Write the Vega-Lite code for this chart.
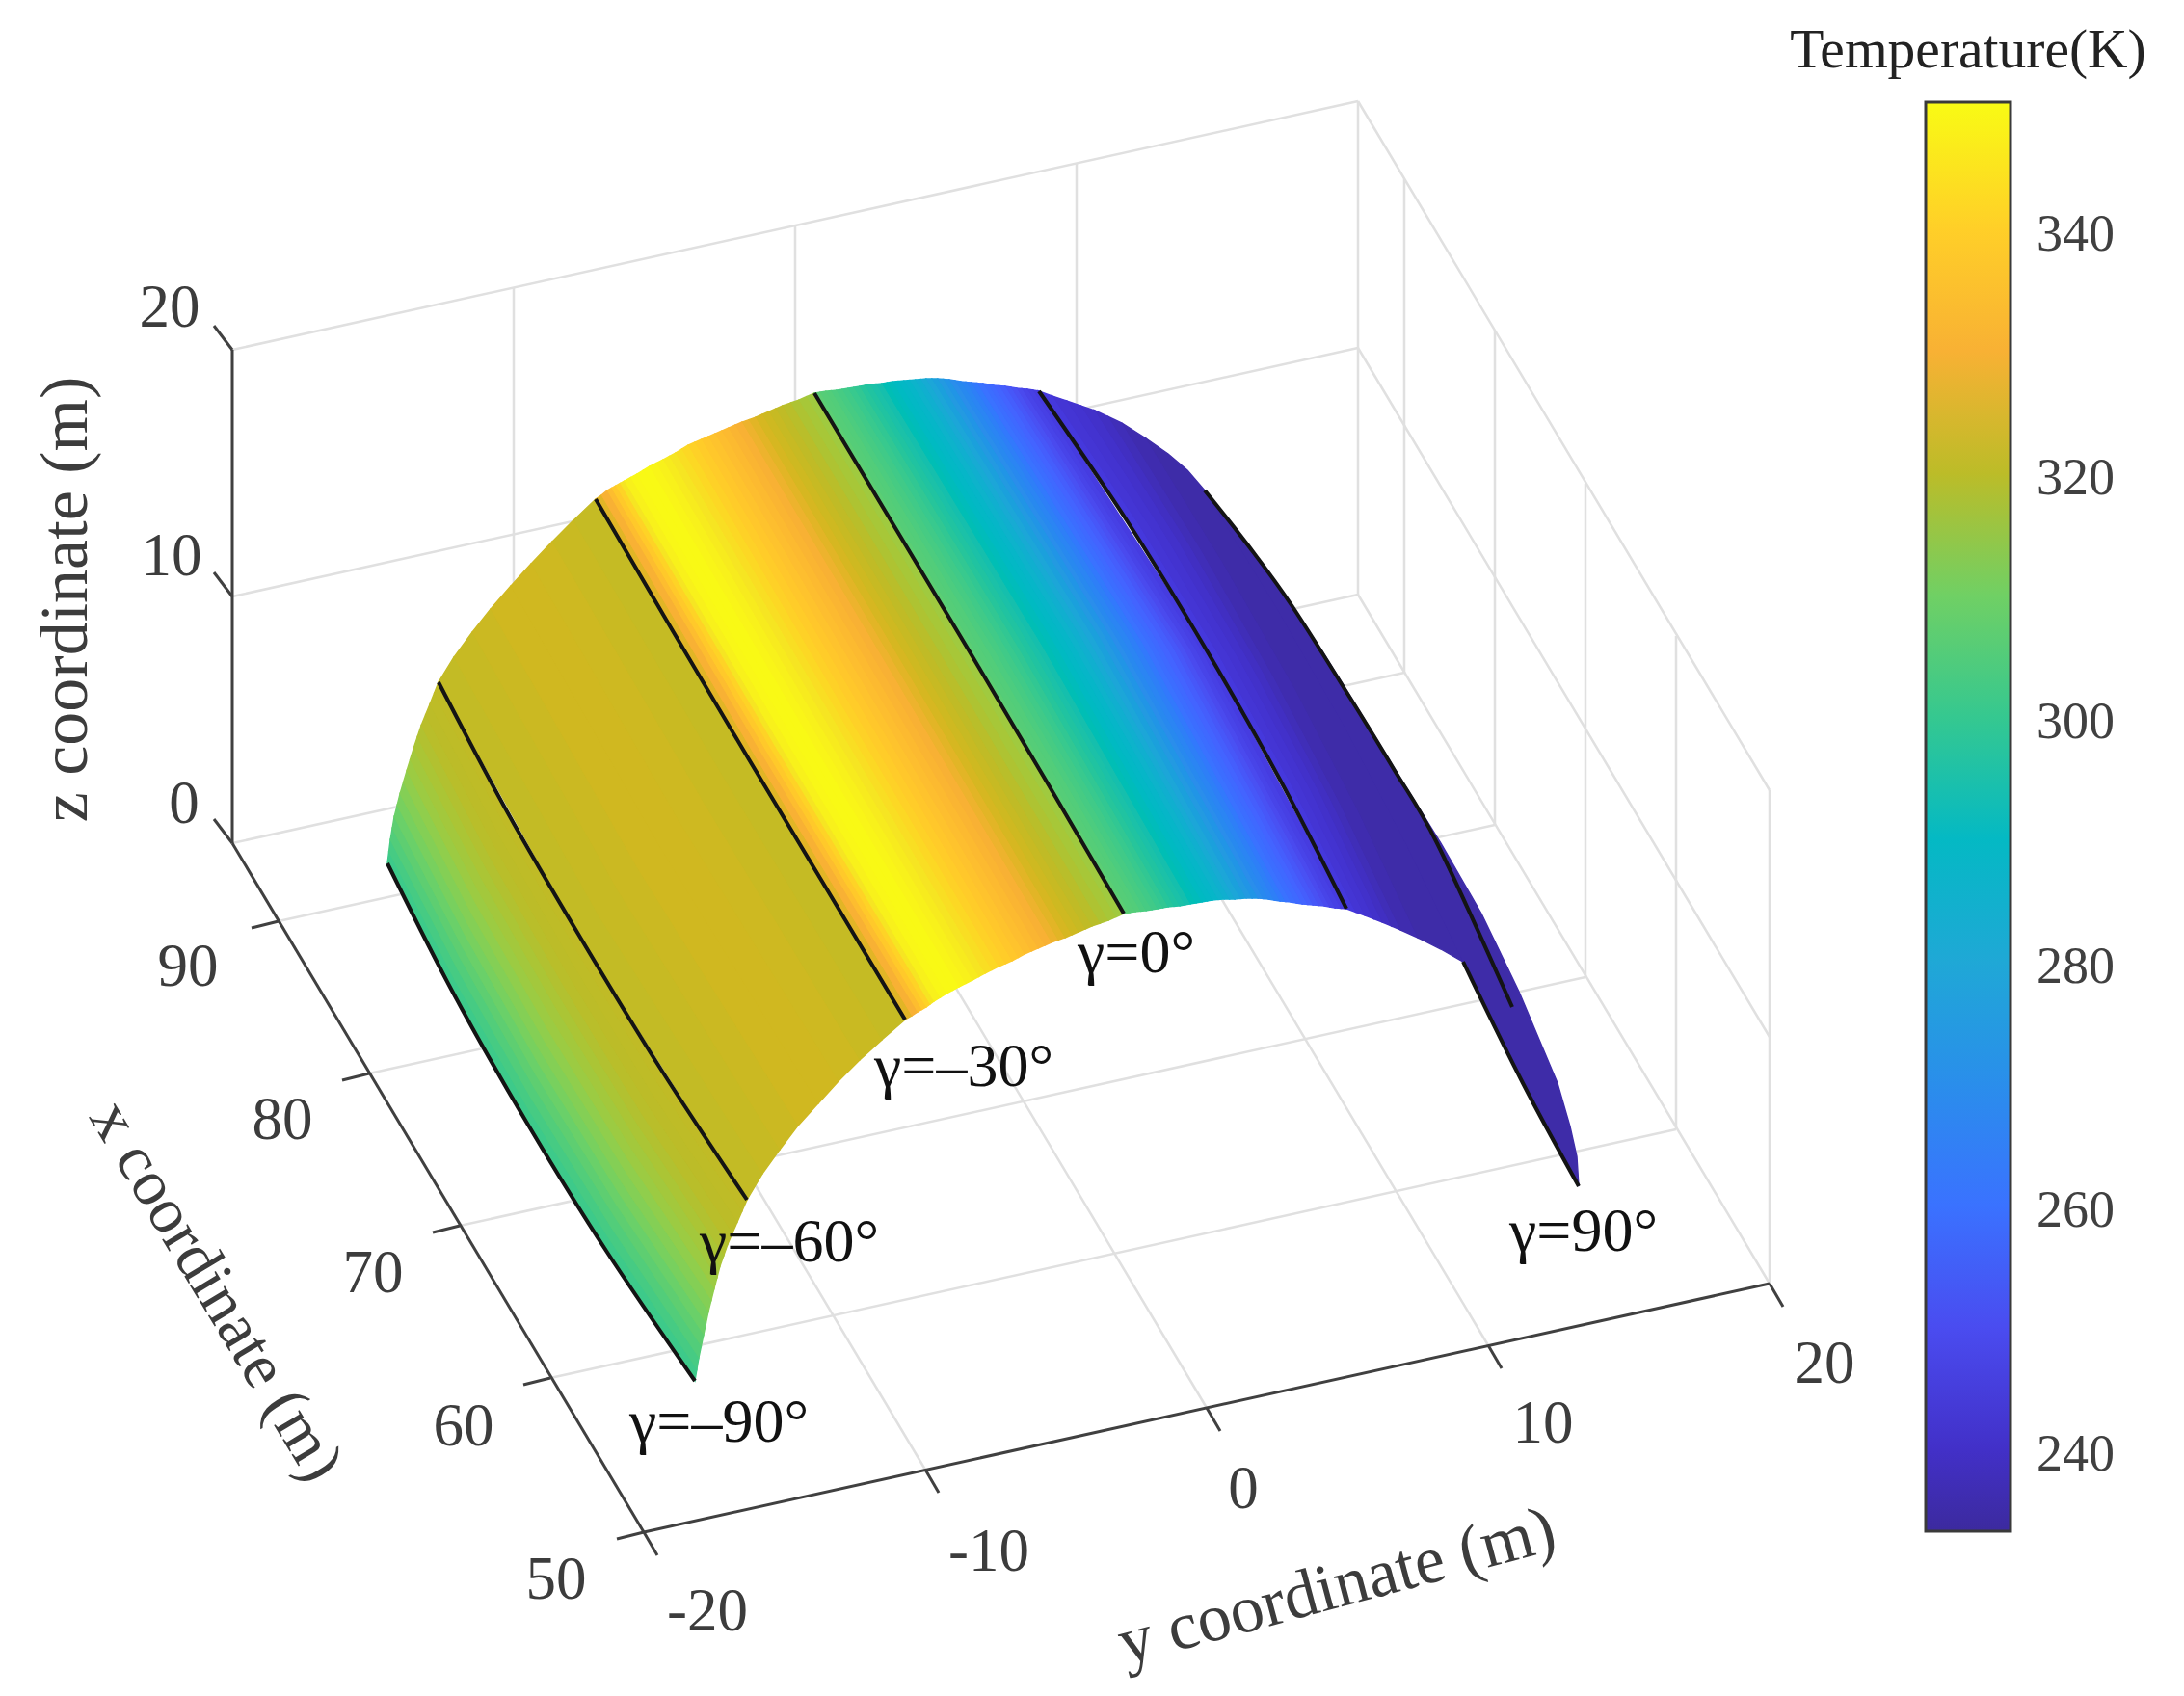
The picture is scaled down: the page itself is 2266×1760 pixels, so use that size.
{"$schema":"https://vega.github.io/schema/vega-lite/v6.json","width":2266,"height":1760,"padding":0,"autosize":{"type":"fit","contains":"padding"},"background":"white","config":{"view":{"stroke":null}},"projection":{"type":"identity","scale":1,"translate":[0,0]},
"datasets":{"surf":[
{"type":"Feature","properties":{"T":301.5},"geometry":{"type":"Polygon","coordinates":[[[402,896],[447,987],[470,1030],[505,1094],[546,1164],[582,1224],[629,1298],[721,1433],[723,1421],[632,1286],[548.5,1152],[472,1018],[403.5,884],[402,896]]]}},
{"type":"Feature","properties":{"T":303},"geometry":{"type":"Polygon","coordinates":[[[403.5,884],[472,1018],[548.5,1152],[632,1286],[723,1421],[725,1409],[634.5,1274.5],[551,1140],[474.5,1006],[405,872],[403.5,884]]]}},
{"type":"Feature","properties":{"T":305},"geometry":{"type":"Polygon","coordinates":[[[405,872],[474.5,1006],[551,1140],[634.5,1274.5],[725,1409],[727.5,1397],[637,1262],[553.5,1128],[477,994],[407,860],[405,872]]]}},
{"type":"Feature","properties":{"T":307},"geometry":{"type":"Polygon","coordinates":[[[407,860],[477,994],[553.5,1128],[637,1262],[727.5,1397],[730,1385],[639.5,1250.5],[556,1116],[479,982],[409,848],[407,860]]]}},
{"type":"Feature","properties":{"T":309},"geometry":{"type":"Polygon","coordinates":[[[409,848],[479,982],[556,1116],[639.5,1250.5],[730,1385],[732.5,1373],[642,1238.5],[558.5,1104],[482,970],[412,836],[409,848]]]}},
{"type":"Feature","properties":{"T":311},"geometry":{"type":"Polygon","coordinates":[[[412,836],[482,970],[558.5,1104],[642,1238.5],[732.5,1373],[735,1361],[644.5,1226.5],[561,1092],[484.5,958],[415,824],[412,836]]]}},
{"type":"Feature","properties":{"T":312.5},"geometry":{"type":"Polygon","coordinates":[[[415,824],[484.5,958],[561,1092],[644.5,1226.5],[735,1361],[738,1349],[648,1214.5],[564.5,1080],[488,946],[418.5,812],[415,824]]]}},
{"type":"Feature","properties":{"T":314},"geometry":{"type":"Polygon","coordinates":[[[418.5,812],[488,946],[564.5,1080],[648,1214.5],[738,1349],[741,1337],[651,1202.5],[568,1068],[491.5,934],[422,800],[418.5,812]]]}},
{"type":"Feature","properties":{"T":315.5},"geometry":{"type":"Polygon","coordinates":[[[422,800],[491.5,934],[568,1068],[651,1202.5],[741,1337],[744,1325.5],[654.5,1191],[572,1056.5],[495,922.5],[425.5,788.5],[422,800]]]}},
{"type":"Feature","properties":{"T":316.5},"geometry":{"type":"Polygon","coordinates":[[[425.5,788.5],[495,922.5],[572,1056.5],[654.5,1191],[744,1325.5],[747,1314],[658,1179.5],[576,1045],[499,911],[429,777],[425.5,788.5]]]}},
{"type":"Feature","properties":{"T":317.5},"geometry":{"type":"Polygon","coordinates":[[[429,777],[499,911],[576,1045],[658,1179.5],[747,1314],[751,1302.5],[662,1168],[580,1033.5],[503,899],[433,765],[429,777]]]}},
{"type":"Feature","properties":{"T":318.5},"geometry":{"type":"Polygon","coordinates":[[[433,765],[503,899],[580,1033.5],[662,1168],[751,1302.5],[755,1291],[666,1156.5],[584,1022],[507,887.5],[437,753],[433,765]]]}},
{"type":"Feature","properties":{"T":319.5},"geometry":{"type":"Polygon","coordinates":[[[437,753],[507,887.5],[584,1022],[666,1156.5],[755,1291],[760,1279.5],[671,1145],[589,1011],[512,876.5],[441.5,742],[437,753]]]}},
{"type":"Feature","properties":{"T":320},"geometry":{"type":"Polygon","coordinates":[[[441.5,742],[512,876.5],[589,1011],[671,1145],[760,1279.5],[765,1268],[676,1134],[594,1000],[517,865.5],[446,731],[441.5,742]]]}},
{"type":"Feature","properties":{"T":320.5},"geometry":{"type":"Polygon","coordinates":[[[446,731],[517,865.5],[594,1000],[676,1134],[765,1268],[770,1256.5],[681,1122],[599,988],[522,853.5],[450.5,719.5],[446,731]]]}},
{"type":"Feature","properties":{"T":321},"geometry":{"type":"Polygon","coordinates":[[[450.5,719.5],[522,853.5],[599,988],[681,1122],[770,1256.5],[775,1245],[686.5,1110.5],[604,976],[526.5,842],[455,708],[450.5,719.5]]]}},
{"type":"Feature","properties":{"T":321.5},"geometry":{"type":"Polygon","coordinates":[[[455,708],[604,976],[775,1245],[791,1218],[621,950],[471,682],[455,708]]]}},
{"type":"Feature","properties":{"T":322.5},"geometry":{"type":"Polygon","coordinates":[[[471,682],[621,950],[791,1218],[809,1193],[641,924],[490,656],[471,682]]]}},
{"type":"Feature","properties":{"T":323.5},"geometry":{"type":"Polygon","coordinates":[[[490,656],[641,924],[809,1193],[828,1168],[661,900],[509,632],[490,656]]]}},
{"type":"Feature","properties":{"T":324.5},"geometry":{"type":"Polygon","coordinates":[[[509,632],[661,900],[828,1168],[849,1145],[683,876],[530,608],[509,632]]]}},
{"type":"Feature","properties":{"T":324.5},"geometry":{"type":"Polygon","coordinates":[[[530,608],[683,876],[849,1145],[870,1122],[705,853],[551,585],[530,608]]]}},
{"type":"Feature","properties":{"T":324},"geometry":{"type":"Polygon","coordinates":[[[551,585],[705,853],[870,1122],[892,1100],[729,831],[573,562],[551,585]]]}},
{"type":"Feature","properties":{"T":323},"geometry":{"type":"Polygon","coordinates":[[[573,562],[729,831],[892,1100],[915,1079],[752,809],[595,540],[573,562]]]}},
{"type":"Feature","properties":{"T":322},"geometry":{"type":"Polygon","coordinates":[[[595,540],[752,809],[915,1079],[939,1058],[777,788],[618,518],[595,540]]]}},
{"type":"Feature","properties":{"T":327},"geometry":{"type":"Polygon","coordinates":[[[618,518],[777,788],[939,1058],[946,1054],[783,784],[624,514],[618,518]]]}},
{"type":"Feature","properties":{"T":330},"geometry":{"type":"Polygon","coordinates":[[[624,514],[783,784],[946,1054],[952,1050],[789,780],[630,509],[624,514]]]}},
{"type":"Feature","properties":{"T":334},"geometry":{"type":"Polygon","coordinates":[[[630,509],[789,780],[952,1050],[956.5,1047.5],[793.5,777],[634.5,506.5],[630,509]]]}},
{"type":"Feature","properties":{"T":338},"geometry":{"type":"Polygon","coordinates":[[[634.5,506.5],[793.5,777],[956.5,1047.5],[961,1045],[798,774],[639,504],[634.5,506.5]]]}},
{"type":"Feature","properties":{"T":341},"geometry":{"type":"Polygon","coordinates":[[[639,504],[798,774],[961,1045],[965,1042],[802.5,771.5],[643.5,501.5],[639,504]]]}},
{"type":"Feature","properties":{"T":345},"geometry":{"type":"Polygon","coordinates":[[[643.5,501.5],[802.5,771.5],[965,1042],[969,1039],[807,769],[648,499],[643.5,501.5]]]}},
{"type":"Feature","properties":{"T":348},"geometry":{"type":"Polygon","coordinates":[[[648,499],[807,769],[969,1039],[975.5,1035],[813.5,765],[654.5,495.5],[648,499]]]}},
{"type":"Feature","properties":{"T":349.5},"geometry":{"type":"Polygon","coordinates":[[[654.5,495.5],[813.5,765],[975.5,1035],[982,1031],[820,761],[661,492],[654.5,495.5]]]}},
{"type":"Feature","properties":{"T":350},"geometry":{"type":"Polygon","coordinates":[[[661,492],[820,761],[982,1031],[988.5,1027.5],[826.5,757.5],[667.5,488],[661,492]]]}},
{"type":"Feature","properties":{"T":350},"geometry":{"type":"Polygon","coordinates":[[[667.5,488],[826.5,757.5],[988.5,1027.5],[995,1024],[833,754],[674,484],[667.5,488]]]}},
{"type":"Feature","properties":{"T":349},"geometry":{"type":"Polygon","coordinates":[[[674,484],[833,754],[995,1024],[1002,1020.5],[840,750.5],[681,480.5],[674,484]]]}},
{"type":"Feature","properties":{"T":348},"geometry":{"type":"Polygon","coordinates":[[[681,480.5],[840,750.5],[1002,1020.5],[1009,1017],[847,747],[688,477],[681,480.5]]]}},
{"type":"Feature","properties":{"T":346.5},"geometry":{"type":"Polygon","coordinates":[[[688,477],[847,747],[1009,1017],[1015.5,1013.5],[854,743.5],[694.5,473.5],[688,477]]]}},
{"type":"Feature","properties":{"T":345},"geometry":{"type":"Polygon","coordinates":[[[694.5,473.5],[854,743.5],[1015.5,1013.5],[1022,1010],[861,740],[701,470],[694.5,473.5]]]}},
{"type":"Feature","properties":{"T":343.5},"geometry":{"type":"Polygon","coordinates":[[[701,470],[861,740],[1022,1010],[1029,1006.5],[867.5,736.5],[707.5,466],[701,470]]]}},
{"type":"Feature","properties":{"T":342},"geometry":{"type":"Polygon","coordinates":[[[707.5,466],[867.5,736.5],[1029,1006.5],[1036,1003],[874,733],[714,462],[707.5,466]]]}},
{"type":"Feature","properties":{"T":340.5},"geometry":{"type":"Polygon","coordinates":[[[714,462],[874,733],[1036,1003],[1043,1000],[881,729.5],[721,459],[714,462]]]}},
{"type":"Feature","properties":{"T":339},"geometry":{"type":"Polygon","coordinates":[[[721,459],[881,729.5],[1043,1000],[1050,997],[888,726],[728,456],[721,459]]]}},
{"type":"Feature","properties":{"T":337.5},"geometry":{"type":"Polygon","coordinates":[[[728,456],[888,726],[1050,997],[1056.5,993.5],[895,723],[735,453],[728,456]]]}},
{"type":"Feature","properties":{"T":336},"geometry":{"type":"Polygon","coordinates":[[[735,453],[895,723],[1056.5,993.5],[1063,990],[902,720],[742,450],[735,453]]]}},
{"type":"Feature","properties":{"T":334.5},"geometry":{"type":"Polygon","coordinates":[[[742,450],[902,720],[1063,990],[1070,987],[909,717],[749,447],[742,450]]]}},
{"type":"Feature","properties":{"T":333},"geometry":{"type":"Polygon","coordinates":[[[749,447],[909,717],[1070,987],[1077,984],[916,714],[756,444],[749,447]]]}},
{"type":"Feature","properties":{"T":331.5},"geometry":{"type":"Polygon","coordinates":[[[756,444],[916,714],[1077,984],[1084,981],[923.5,711],[763,441],[756,444]]]}},
{"type":"Feature","properties":{"T":330},"geometry":{"type":"Polygon","coordinates":[[[763,441],[923.5,711],[1084,981],[1091,978],[931,708],[770,438],[763,441]]]}},
{"type":"Feature","properties":{"T":328.5},"geometry":{"type":"Polygon","coordinates":[[[770,438],[931,708],[1091,978],[1098,975.5],[938,705.5],[777,435.5],[770,438]]]}},
{"type":"Feature","properties":{"T":327},"geometry":{"type":"Polygon","coordinates":[[[777,435.5],[938,705.5],[1098,975.5],[1105,973],[945,703],[784,433],[777,435.5]]]}},
{"type":"Feature","properties":{"T":325.5},"geometry":{"type":"Polygon","coordinates":[[[784,433],[945,703],[1105,973],[1112,970],[952,700],[791,430],[784,433]]]}},
{"type":"Feature","properties":{"T":324},"geometry":{"type":"Polygon","coordinates":[[[791,430],[952,700],[1112,970],[1119,967],[959,697],[798,427],[791,430]]]}},
{"type":"Feature","properties":{"T":322.5},"geometry":{"type":"Polygon","coordinates":[[[798,427],[959,697],[1119,967],[1126,964],[966,694],[805,424],[798,427]]]}},
{"type":"Feature","properties":{"T":321},"geometry":{"type":"Polygon","coordinates":[[[805,424],[966,694],[1126,964],[1133,961],[973,691],[812,421],[805,424]]]}},
{"type":"Feature","properties":{"T":319.5},"geometry":{"type":"Polygon","coordinates":[[[812,421],[973,691],[1133,961],[1141.5,958],[981.5,688],[820.5,418],[812,421]]]}},
{"type":"Feature","properties":{"T":318},"geometry":{"type":"Polygon","coordinates":[[[820.5,418],[981.5,688],[1141.5,958],[1150,955],[990,685],[829,415],[820.5,418]]]}},
{"type":"Feature","properties":{"T":317},"geometry":{"type":"Polygon","coordinates":[[[829,415],[990,685],[1150,955],[1158,951.5],[998.5,681.5],[837,411.5],[829,415]]]}},
{"type":"Feature","properties":{"T":316},"geometry":{"type":"Polygon","coordinates":[[[837,411.5],[998.5,681.5],[1158,951.5],[1166,948],[1007,678],[845,408],[837,411.5]]]}},
{"type":"Feature","properties":{"T":306.5},"geometry":{"type":"Polygon","coordinates":[[[845,408],[1007,678],[1166,948],[1172,947],[1013,677],[851,407],[845,408]]]}},
{"type":"Feature","properties":{"T":305.5},"geometry":{"type":"Polygon","coordinates":[[[851,407],[1013,677],[1172,947],[1178,946],[1019,676],[857,406],[851,407]]]}},
{"type":"Feature","properties":{"T":305},"geometry":{"type":"Polygon","coordinates":[[[857,406],[1019,676],[1178,946],[1183.5,945.5],[1025.5,675.5],[862.5,405.5],[857,406]]]}},
{"type":"Feature","properties":{"T":304},"geometry":{"type":"Polygon","coordinates":[[[862.5,405.5],[1025.5,675.5],[1183.5,945.5],[1189,945],[1032,675],[868,405],[862.5,405.5]]]}},
{"type":"Feature","properties":{"T":303},"geometry":{"type":"Polygon","coordinates":[[[868,405],[1032,675],[1189,945],[1195,944],[1038,674],[874,404],[868,405]]]}},
{"type":"Feature","properties":{"T":302},"geometry":{"type":"Polygon","coordinates":[[[874,404],[1038,674],[1195,944],[1201,943],[1044,673],[880,403],[874,404]]]}},
{"type":"Feature","properties":{"T":300.5},"geometry":{"type":"Polygon","coordinates":[[[880,403],[1044,673],[1201,943],[1206.5,942],[1050,672],[886,402],[880,403]]]}},
{"type":"Feature","properties":{"T":299.5},"geometry":{"type":"Polygon","coordinates":[[[886,402],[1050,672],[1206.5,942],[1212,941],[1056,671],[892,401],[886,402]]]}},
{"type":"Feature","properties":{"T":298},"geometry":{"type":"Polygon","coordinates":[[[892,401],[1056,671],[1212,941],[1218,940.5],[1062,670],[897.5,400],[892,401]]]}},
{"type":"Feature","properties":{"T":297},"geometry":{"type":"Polygon","coordinates":[[[897.5,400],[1062,670],[1218,940.5],[1224,940],[1068,669],[903,399],[897.5,400]]]}},
{"type":"Feature","properties":{"T":295.5},"geometry":{"type":"Polygon","coordinates":[[[903,399],[1068,669],[1224,940],[1229.5,939],[1074,668.5],[909,398.5],[903,399]]]}},
{"type":"Feature","properties":{"T":294.5},"geometry":{"type":"Polygon","coordinates":[[[909,398.5],[1074,668.5],[1229.5,939],[1235,938],[1080,668],[915,398],[909,398.5]]]}},
{"type":"Feature","properties":{"T":293},"geometry":{"type":"Polygon","coordinates":[[[915,398],[1080,668],[1235,938],[1241,937],[1086.5,667],[920.5,397],[915,398]]]}},
{"type":"Feature","properties":{"T":292},"geometry":{"type":"Polygon","coordinates":[[[920.5,397],[1086.5,667],[1241,937],[1247,936],[1093,666],[926,396],[920.5,397]]]}},
{"type":"Feature","properties":{"T":290.5},"geometry":{"type":"Polygon","coordinates":[[[926,396],[1093,666],[1247,936],[1252.5,935],[1099,665.5],[932,395.5],[926,396]]]}},
{"type":"Feature","properties":{"T":289.5},"geometry":{"type":"Polygon","coordinates":[[[932,395.5],[1099,665.5],[1252.5,935],[1258,934],[1105,665],[938,395],[932,395.5]]]}},
{"type":"Feature","properties":{"T":287.5},"geometry":{"type":"Polygon","coordinates":[[[938,395],[1105,665],[1258,934],[1264,933.5],[1111,664.5],[944,394.5],[938,395]]]}},
{"type":"Feature","properties":{"T":286},"geometry":{"type":"Polygon","coordinates":[[[944,394.5],[1111,664.5],[1264,933.5],[1270,933],[1117,664],[950,394],[944,394.5]]]}},
{"type":"Feature","properties":{"T":283.5},"geometry":{"type":"Polygon","coordinates":[[[950,394],[1117,664],[1270,933],[1275.5,933],[1123,663.5],[955.5,393.5],[950,394]]]}},
{"type":"Feature","properties":{"T":281.5},"geometry":{"type":"Polygon","coordinates":[[[955.5,393.5],[1123,663.5],[1275.5,933],[1281,933],[1129,663],[961,393],[955.5,393.5]]]}},
{"type":"Feature","properties":{"T":279},"geometry":{"type":"Polygon","coordinates":[[[961,393],[1129,663],[1281,933],[1287,932.5],[1135.5,663],[967,393],[961,393]]]}},
{"type":"Feature","properties":{"T":277},"geometry":{"type":"Polygon","coordinates":[[[967,393],[1135.5,663],[1287,932.5],[1293,932],[1142,663],[973,393],[967,393]]]}},
{"type":"Feature","properties":{"T":274.5},"geometry":{"type":"Polygon","coordinates":[[[973,393],[1142,663],[1293,932],[1299,932],[1148,663],[979,393.5],[973,393]]]}},
{"type":"Feature","properties":{"T":272.5},"geometry":{"type":"Polygon","coordinates":[[[979,393.5],[1148,663],[1299,932],[1305,932],[1154,663],[985,394],[979,393.5]]]}},
{"type":"Feature","properties":{"T":270},"geometry":{"type":"Polygon","coordinates":[[[985,394],[1154,663],[1305,932],[1310.5,932.5],[1160,664],[991,395],[985,394]]]}},
{"type":"Feature","properties":{"T":268},"geometry":{"type":"Polygon","coordinates":[[[991,395],[1160,664],[1310.5,932.5],[1316,933],[1166,665],[997,396],[991,395]]]}},
{"type":"Feature","properties":{"T":266},"geometry":{"type":"Polygon","coordinates":[[[997,396],[1166,665],[1316,933],[1322,934],[1172.5,665.5],[1002.5,396.5],[997,396]]]}},
{"type":"Feature","properties":{"T":264},"geometry":{"type":"Polygon","coordinates":[[[1002.5,396.5],[1172.5,665.5],[1322,934],[1328,935],[1179,666],[1008,397],[1002.5,396.5]]]}},
{"type":"Feature","properties":{"T":262},"geometry":{"type":"Polygon","coordinates":[[[1008,397],[1179,666],[1328,935],[1333.5,935.5],[1185,666.5],[1014,397.5],[1008,397]]]}},
{"type":"Feature","properties":{"T":260},"geometry":{"type":"Polygon","coordinates":[[[1014,397.5],[1185,666.5],[1333.5,935.5],[1339,936],[1191,667],[1020,398],[1014,397.5]]]}},
{"type":"Feature","properties":{"T":258.5},"geometry":{"type":"Polygon","coordinates":[[[1020,398],[1191,667],[1339,936],[1345,937],[1197,668],[1025.5,399],[1020,398]]]}},
{"type":"Feature","properties":{"T":257},"geometry":{"type":"Polygon","coordinates":[[[1025.5,399],[1197,668],[1345,937],[1351,938],[1203,669],[1031,400],[1025.5,399]]]}},
{"type":"Feature","properties":{"T":255.5},"geometry":{"type":"Polygon","coordinates":[[[1031,400],[1203,669],[1351,938],[1356.5,938.5],[1209.5,669.5],[1037,400.5],[1031,400]]]}},
{"type":"Feature","properties":{"T":254},"geometry":{"type":"Polygon","coordinates":[[[1037,400.5],[1209.5,669.5],[1356.5,938.5],[1362,939],[1216,670],[1043,401],[1037,400.5]]]}},
{"type":"Feature","properties":{"T":252.5},"geometry":{"type":"Polygon","coordinates":[[[1043,401],[1216,670],[1362,939],[1368,939.5],[1222,671],[1049,402],[1043,401]]]}},
{"type":"Feature","properties":{"T":251},"geometry":{"type":"Polygon","coordinates":[[[1049,402],[1222,671],[1368,939.5],[1374,940],[1228,672],[1055,403],[1049,402]]]}},
{"type":"Feature","properties":{"T":249.5},"geometry":{"type":"Polygon","coordinates":[[[1055,403],[1228,672],[1374,940],[1379.5,941],[1234,672.5],[1060.5,403.5],[1055,403]]]}},
{"type":"Feature","properties":{"T":248},"geometry":{"type":"Polygon","coordinates":[[[1060.5,403.5],[1234,672.5],[1379.5,941],[1385,942],[1240,673],[1066,404],[1060.5,403.5]]]}},
{"type":"Feature","properties":{"T":247},"geometry":{"type":"Polygon","coordinates":[[[1066,404],[1240,673],[1385,942],[1391,942.5],[1246,674],[1072,405],[1066,404]]]}},
{"type":"Feature","properties":{"T":246},"geometry":{"type":"Polygon","coordinates":[[[1072,405],[1246,674],[1391,942.5],[1397,943],[1252.5,675],[1078,406],[1072,405]]]}},
{"type":"Feature","properties":{"T":245},"geometry":{"type":"Polygon","coordinates":[[[1078,406],[1169,540],[1252.5,675],[1328.5,809],[1397,943],[1406.5,946.5],[1339,813],[1264,679],[1182,545],[1092,411],[1078,406]]]}},
{"type":"Feature","properties":{"T":243},"geometry":{"type":"Polygon","coordinates":[[[1092,411],[1182,545],[1264,679],[1339,813],[1406.5,946.5],[1416,950],[1349.5,816.5],[1276,683],[1195,549.5],[1107,416],[1092,411]]]}},
{"type":"Feature","properties":{"T":242},"geometry":{"type":"Polygon","coordinates":[[[1107,416],[1195,549.5],[1276,683],[1349.5,816.5],[1416,950],[1425,953.5],[1360,820.5],[1287.5,687.5],[1208,554],[1121.5,421],[1107,416]]]}},
{"type":"Feature","properties":{"T":240.5},"geometry":{"type":"Polygon","coordinates":[[[1121.5,421],[1208,554],[1287.5,687.5],[1360,820.5],[1425,953.5],[1434,957],[1370,824.5],[1299,692],[1221,559],[1136,426],[1121.5,421]]]}},
{"type":"Feature","properties":{"T":239},"geometry":{"type":"Polygon","coordinates":[[[1136,426],[1221,559],[1299,692],[1370,824.5],[1434,957],[1443.5,961],[1380,829],[1310,697],[1233.5,565],[1150,432.5],[1136,426]]]}},
{"type":"Feature","properties":{"T":237.5},"geometry":{"type":"Polygon","coordinates":[[[1150,432.5],[1233.5,565],[1310,697],[1380,829],[1443.5,961],[1453,965],[1390,833.5],[1321,702],[1246,570.5],[1164,439],[1150,432.5]]]}},
{"type":"Feature","properties":{"T":236},"geometry":{"type":"Polygon","coordinates":[[[1164,439],[1246,570.5],[1321,702],[1390,833.5],[1453,965],[1471,973],[1410,843.5],[1343,714],[1269,584.5],[1189,455],[1164,439]]]}},
{"type":"Feature","properties":{"T":235},"geometry":{"type":"Polygon","coordinates":[[[1189,455],[1269,584.5],[1343,714],[1410,843.5],[1471,973],[1495,985],[1518,998],[1459,876],[1395,754],[1325,631.5],[1250,509],[1232,488],[1212,471],[1189,455]]]}},
{"type":"Feature","properties":{"T":235},"geometry":{"type":"Polygon","coordinates":[[[1250,509],[1295,566],[1340,628],[1372,676],[1402,724],[1446,796],[1495,875],[1537,948],[1576,1029],[1616,1124],[1629,1169],[1636,1200],[1638,1231],[1580,1124],[1518,998],[1459,876],[1395,754],[1325,631.5],[1250,509]]]}}
]},
"layer":[
{"data":{"values":[
{"g":"a","lon":289,"lat":956},{"g":"a","lon":1457,"lat":698},
{"g":"b","lon":383,"lat":1114},{"g":"b","lon":1551,"lat":856},
{"g":"c","lon":477,"lat":1272},{"g":"c","lon":1645,"lat":1014},
{"g":"d","lon":571,"lat":1430},{"g":"d","lon":1739,"lat":1172},
{"g":"e","lon":960,"lat":1525},{"g":"e","lon":533,"lat":810},
{"g":"f","lon":1252,"lat":1461},{"g":"f","lon":825,"lat":746},
{"g":"h","lon":1544,"lat":1396},{"g":"h","lon":1117,"lat":681},
{"g":"i","lon":1409,"lat":617},{"g":"i","lon":1836,"lat":1332},
{"g":"j","lon":241,"lat":875},{"g":"j","lon":1409,"lat":617},
{"g":"k","lon":241,"lat":619},{"g":"k","lon":1409,"lat":361},
{"g":"l","lon":241,"lat":363},{"g":"l","lon":1409,"lat":105},
{"g":"m","lon":533,"lat":810},{"g":"m","lon":533,"lat":298},
{"g":"n","lon":825,"lat":746},{"g":"n","lon":825,"lat":234},
{"g":"o","lon":1117,"lat":681},{"g":"o","lon":1117,"lat":169},
{"g":"p","lon":1409,"lat":617},{"g":"p","lon":1409,"lat":105},
{"g":"q","lon":1409,"lat":361},{"g":"q","lon":1836,"lat":1076},
{"g":"r","lon":1409,"lat":105},{"g":"r","lon":1836,"lat":820},
{"g":"s","lon":1457,"lat":698},{"g":"s","lon":1457,"lat":186},
{"g":"t","lon":1551,"lat":856},{"g":"t","lon":1551,"lat":344},
{"g":"u","lon":1645,"lat":1014},{"g":"u","lon":1645,"lat":502},
{"g":"v","lon":1739,"lat":1172},{"g":"v","lon":1739,"lat":660},
{"g":"w","lon":1836,"lat":1332},{"g":"w","lon":1836,"lat":820}
]},"mark":{"type":"line","color":"#e0e0e0","strokeWidth":2.5},"encoding":{"detail":{"field":"g"},"longitude":{"field":"lon","type":"quantitative"},"latitude":{"field":"lat","type":"quantitative"}}},
{"data":{"values":[
{"g":"z","lon":241,"lat":363},{"g":"z","lon":241,"lat":875},
{"g":"x","lon":241,"lat":875},{"g":"x","lon":668,"lat":1590},
{"g":"y","lon":668,"lat":1590},{"g":"y","lon":1836,"lat":1332},
{"g":"z20","lon":241,"lat":363},{"g":"z20","lon":222,"lat":338},
{"g":"z10","lon":241,"lat":619},{"g":"z10","lon":222,"lat":594},
{"g":"z0","lon":241,"lat":875},{"g":"z0","lon":222,"lat":850},
{"g":"x90","lon":289,"lat":956},{"g":"x90","lon":261,"lat":963},
{"g":"x80","lon":383,"lat":1114},{"g":"x80","lon":355,"lat":1121},
{"g":"x70","lon":477,"lat":1272},{"g":"x70","lon":449,"lat":1279},
{"g":"x60","lon":571,"lat":1430},{"g":"x60","lon":543,"lat":1437},
{"g":"x50","lon":668,"lat":1590},{"g":"x50","lon":640,"lat":1597},
{"g":"y-20","lon":668,"lat":1590},{"g":"y-20","lon":682,"lat":1614},
{"g":"y-10","lon":960,"lat":1525},{"g":"y-10","lon":974,"lat":1549},
{"g":"y0","lon":1252,"lat":1461},{"g":"y0","lon":1266,"lat":1485},
{"g":"y10","lon":1544,"lat":1396},{"g":"y10","lon":1558,"lat":1420},
{"g":"y20","lon":1836,"lat":1332},{"g":"y20","lon":1850,"lat":1356}
]},"mark":{"type":"line","color":"#404040","strokeWidth":3},"encoding":{"detail":{"field":"g"},"longitude":{"field":"lon","type":"quantitative"},"latitude":{"field":"lat","type":"quantitative"}}},
{"data":{"name":"surf"},"mark":{"type":"geoshape","filled":false,"strokeWidth":1.4},"encoding":{
"stroke":{"field":"properties.T","type":"quantitative","legend":null,"scale":{"domain":[233.2,240,245,250,255,260,265,270,275,280,285,290,295,300,305,310,315,320,325,330,335,340,345,350.5],"range":["#3c2a9e","#4230c8","#4538dc","#4a4cf0","#4462ff","#3a72ff","#2e82f5","#2a8eeb","#249be0","#1fa8d6","#12b2cc","#04b9c4","#1bc0aa","#35c890","#52cd7a","#70d064","#98cd46","#bcbc28","#d2b820","#f8b134","#fec02e","#ffcf28","#f6e522","#f9fb14"]}}
}},
{"data":{"name":"surf"},"mark":{"type":"geoshape","stroke":null},"encoding":{
"fill":{"field":"properties.T","type":"quantitative","scale":{"domain":[233.3,240,245,250,255,260,265,270,275,280,285,290,295,300,305,310,315,320,325,330,335,340,345,350.4],"range":["#3c2a9e","#4230c8","#4538dc","#4a4cf0","#4462ff","#3a72ff","#2e82f5","#2a8eeb","#249be0","#1fa8d6","#12b2cc","#04b9c4","#1bc0aa","#35c890","#52cd7a","#70d064","#98cd46","#bcbc28","#d2b820","#f8b134","#fec02e","#ffcf28","#f6e522","#f9fb14"]},
"legend":{"orient":"none","legendX":1998,"legendY":106,"gradientLength":1483,"gradientThickness":88,"values":[240,260,280,300,320,340],"title":null,"labelFont":"Liberation Serif","labelFontSize":54,"labelColor":"#404040","labelOffset":27,"gradientStrokeColor":"#3a3a3a","gradientStrokeWidth":3,"direction":"vertical","zindex":-1,"encode":{"labels":{"update":{"dy":{"value":6}}}}}}
}},
{"data":{"values":[
{"g":"m90","lon":402,"lat":896},{"g":"m90","lon":470,"lat":1030},{"g":"m90","lon":546,"lat":1164},{"g":"m90","lon":629,"lat":1298},{"g":"m90","lon":721,"lat":1433},
{"g":"m60","lon":455,"lat":708},{"g":"m60","lon":526,"lat":842},{"g":"m60","lon":604,"lat":976},{"g":"m60","lon":686,"lat":1110},{"g":"m60","lon":775,"lat":1245},
{"g":"m30","lon":618,"lat":518},{"g":"m30","lon":697,"lat":653},{"g":"m30","lon":777,"lat":788},{"g":"m30","lon":858,"lat":923},{"g":"m30","lon":939,"lat":1058},
{"g":"p0","lon":845,"lat":408},{"g":"p0","lon":926,"lat":543},{"g":"p0","lon":1007,"lat":678},{"g":"p0","lon":1087,"lat":813},{"g":"p0","lon":1166,"lat":948},
{"g":"p30","lon":1078,"lat":406},{"g":"p30","lon":1169,"lat":540},{"g":"p30","lon":1252,"lat":675},{"g":"p30","lon":1328,"lat":809},{"g":"p30","lon":1397,"lat":943},
{"g":"sil","lon":1250,"lat":509},{"g":"sil","lon":1295,"lat":566},{"g":"sil","lon":1340,"lat":628},{"g":"sil","lon":1402,"lat":726},{"g":"sil","lon":1446,"lat":798},{"g":"sil","lon":1491,"lat":875},{"g":"sil","lon":1569,"lat":1045},
{"g":"low","lon":1518,"lat":998},{"g":"low","lon":1580,"lat":1124},{"g":"low","lon":1638,"lat":1231},
{"g":"t340","lon":2071,"lat":238},{"g":"t340","lon":2086,"lat":238},
{"g":"t320","lon":2071,"lat":491},{"g":"t320","lon":2086,"lat":491},
{"g":"t300","lon":2071,"lat":744},{"g":"t300","lon":2086,"lat":744},
{"g":"t280","lon":2071,"lat":998},{"g":"t280","lon":2086,"lat":998},
{"g":"t260","lon":2071,"lat":1251},{"g":"t260","lon":2086,"lat":1251},
{"g":"t240","lon":2071,"lat":1504},{"g":"t240","lon":2086,"lat":1504}
]},"mark":{"type":"line","color":"#141414","strokeWidth":4,"interpolate":"cardinal"},"encoding":{"detail":{"field":"g"},"longitude":{"field":"lon","type":"quantitative"},"latitude":{"field":"lat","type":"quantitative"}}},
{"data":{"values":[
{"t":"20","lon":176,"lat":320},{"t":"10","lon":178,"lat":578},{"t":"0","lon":191,"lat":835},
{"t":"90","lon":195,"lat":1004},{"t":"80","lon":293,"lat":1163},{"t":"70","lon":387,"lat":1322},{"t":"60","lon":481,"lat":1481},{"t":"50","lon":577,"lat":1640},
{"t":"-20","lon":734,"lat":1673},{"t":"-10","lon":1026,"lat":1611},{"t":"0","lon":1290,"lat":1546},{"t":"10","lon":1601,"lat":1478},{"t":"20","lon":1893,"lat":1416}
]},"mark":{"type":"text","font":"Liberation Serif","fontSize":63,"color":"#3c3c3c","align":"center","baseline":"middle"},"encoding":{"text":{"field":"t"},"longitude":{"field":"lon","type":"quantitative"},"latitude":{"field":"lat","type":"quantitative"}}},
{"data":{"values":[{"t":"z coordinate (m)","lon":69,"lat":622}]},"mark":{"type":"text","font":"Liberation Serif","fontSize":70,"color":"#3c3c3c","align":"center","baseline":"middle","angle":270},"encoding":{"text":{"field":"t"},"longitude":{"field":"lon","type":"quantitative"},"latitude":{"field":"lat","type":"quantitative"}}},
{"data":{"values":[{"t":"x coordinate (m)","lon":224,"lat":1340}]},"mark":{"type":"text","font":"Liberation Serif","fontSize":67,"color":"#3c3c3c","align":"center","baseline":"middle","angle":59},"encoding":{"text":{"field":"t"},"longitude":{"field":"lon","type":"quantitative"},"latitude":{"field":"lat","type":"quantitative"}}},
{"data":{"values":[{"t":"y coordinate (m)","lon":1387,"lat":1647}]},"mark":{"type":"text","font":"Liberation Serif","fontSize":70,"color":"#3c3c3c","align":"center","baseline":"middle","angle":345},"encoding":{"text":{"field":"t"},"longitude":{"field":"lon","type":"quantitative"},"latitude":{"field":"lat","type":"quantitative"}}},
{"data":{"values":[
{"t":"γ=–90°","lon":746,"lat":1477},{"t":"γ=–60°","lon":819,"lat":1290},{"t":"γ=–30°","lon":1000,"lat":1108},{"t":"γ=0°","lon":1179,"lat":990},{"t":"γ=90°","lon":1643,"lat":1279}
]},"mark":{"type":"text","font":"Liberation Serif","fontSize":64,"color":"#111111","align":"center","baseline":"middle"},"encoding":{"text":{"field":"t"},"longitude":{"field":"lon","type":"quantitative"},"latitude":{"field":"lat","type":"quantitative"}}},
{"data":{"values":[{"t":"Temperature(K)","lon":2042,"lat":53}]},"mark":{"type":"text","font":"Liberation Serif","fontSize":57.5,"color":"#222222","align":"center","baseline":"middle"},"encoding":{"text":{"field":"t"},"longitude":{"field":"lon","type":"quantitative"},"latitude":{"field":"lat","type":"quantitative"}}}
]}
